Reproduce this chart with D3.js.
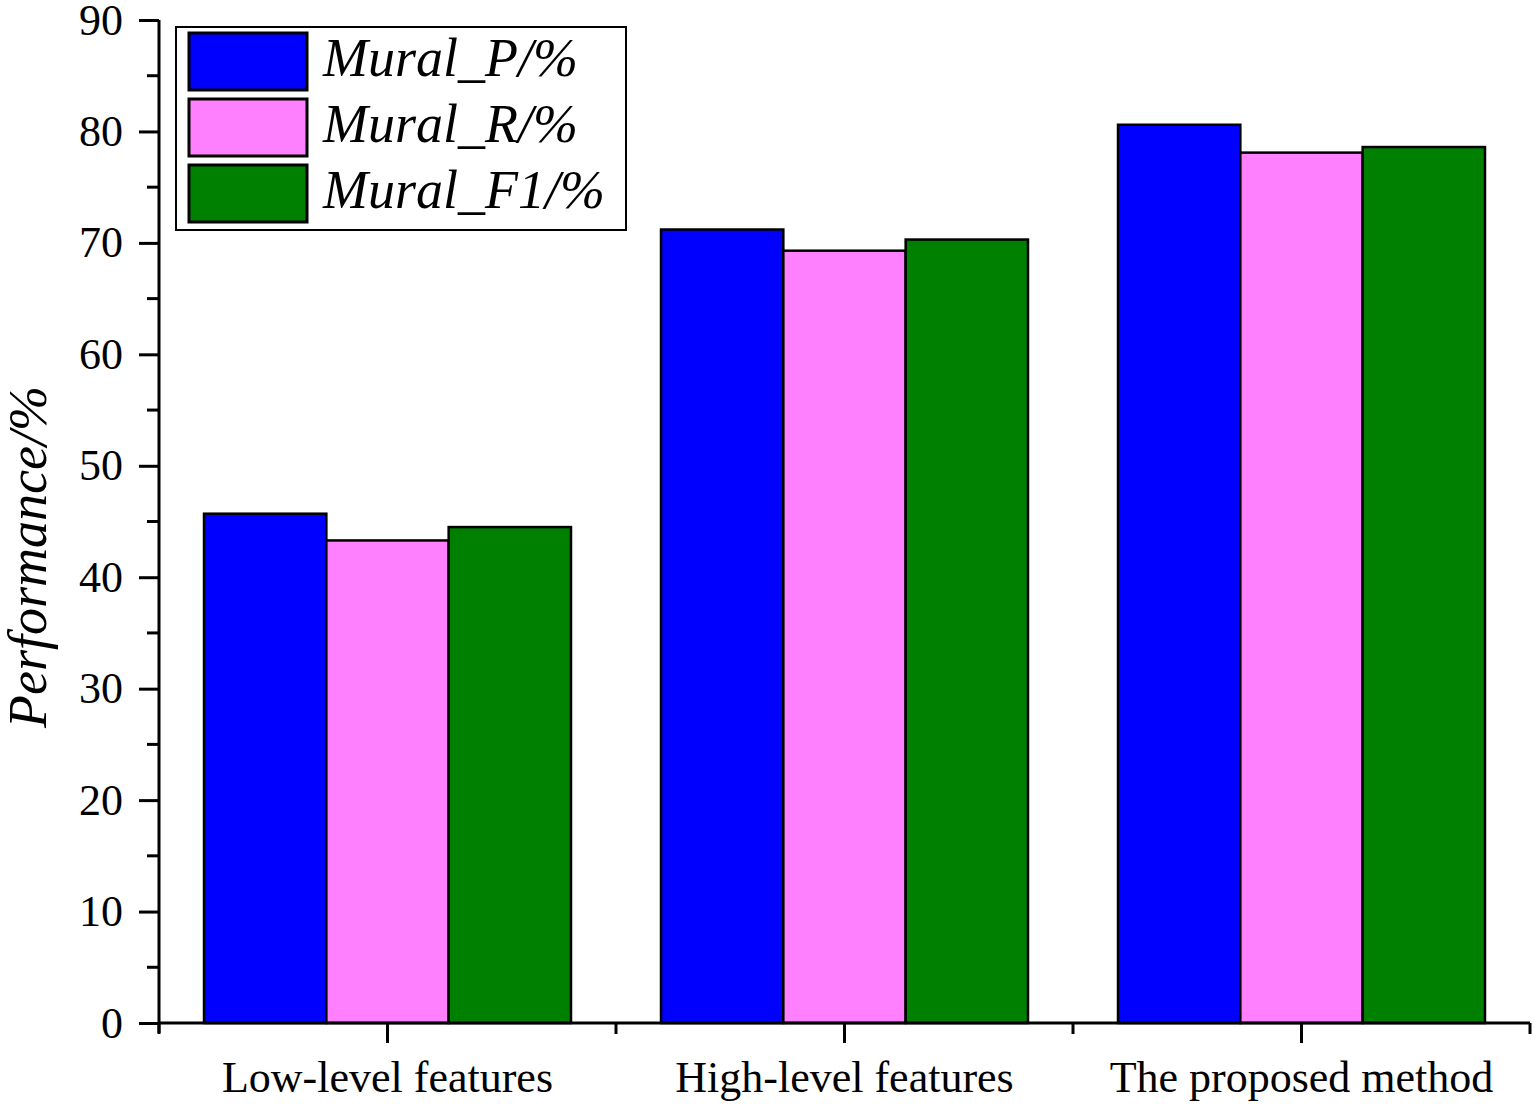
<!DOCTYPE html>
<html><head><meta charset="utf-8">
<script src="https://cdn.jsdelivr.net/npm/d3@7"></script>
<style>body{margin:0;background:#fff}svg{display:block}</style>
</head><body><svg id="c" width="1534" height="1104"></svg>
<script>
const categories = ["Low-level features", "High-level features", "The proposed method"];
const seriesNames = ["Mural_P/%", "Mural_R/%", "Mural_F1/%"];
const seriesColors = ["#0000ff", "#ff80ff", "#008000"];
const valuesP = [45.7, 71.2, 80.6];
const valuesR = [43.3, 69.3, 78.1];
const valuesF1 = [44.5, 70.3, 78.6];
const yTicks = [0, 10, 20, 30, 40, 50, 60, 70, 80, 90];
const yLabel = "Performance/%";

const series = [valuesP, valuesR, valuesF1];
const svg = d3.select("#c");
const font = "'Liberation Serif','Times New Roman',serif";
const m = {l:159, r:1530, t:20, b:1023};

const x0 = d3.scaleBand().domain(categories).range([m.l, m.r]).paddingInner(0).paddingOuter(0);
const x1 = d3.scaleBand().domain(seriesNames).range([0, x0.bandwidth()]).paddingInner(0).paddingOuter(0.368);
const y = d3.scaleLinear().domain([0, 90]).range([m.b, m.t]);

// bars
categories.forEach((c, ci) => {
  seriesNames.forEach((s, si) => {
    svg.append("rect")
      .attr("x", x0(c) + x1(s))
      .attr("y", y(series[si][ci]))
      .attr("width", x1.bandwidth())
      .attr("height", y(0) - y(series[si][ci]))
      .attr("fill", seriesColors[si])
      .attr("stroke", "#000").attr("stroke-width", 2.5);
  });
});

// y axis
const yAxis = d3.axisLeft(y).tickValues(yTicks).tickSize(20).tickPadding(16).tickFormat(d3.format("d"));
const gy = svg.append("g").attr("transform", `translate(${m.l},0)`).call(yAxis);
gy.select(".domain").attr("stroke-width", 3).attr("d", `M0,${m.b+10}V${m.t}`);
gy.selectAll(".tick line").attr("stroke-width", 3);
gy.selectAll("text").attr("font-family", font).attr("font-size", 44).attr("fill", "#000");
// minor y ticks
const minor = d3.range(5, 90, 10);
svg.append("g").selectAll("line").data(minor).join("line")
  .attr("x1", m.l - 12).attr("x2", m.l).attr("y1", d => y(d)).attr("y2", d => y(d))
  .attr("stroke", "#000").attr("stroke-width", 3);

// x axis
const xAxis = d3.axisBottom(x0).tickSize(20).tickPadding(18);
const gx = svg.append("g").attr("transform", `translate(0,${m.b})`).call(xAxis);
gx.select(".domain").attr("stroke-width", 3).attr("d", `M${m.l},0H${m.r}`);
gx.selectAll(".tick line").attr("stroke-width", 3);
gx.selectAll("text").attr("font-family", font).attr("font-size", 44).attr("fill", "#000");
// band boundary ticks
const bounds = categories.map(c => x0(c)).concat([m.r]);
svg.append("g").selectAll("line").data(bounds).join("line")
  .attr("x1", d => d).attr("x2", d => d).attr("y1", m.b).attr("y2", m.b + 11)
  .attr("stroke", "#000").attr("stroke-width", 3);

// y label
svg.append("text").attr("transform", `translate(46,557) rotate(-90)`)
  .attr("text-anchor", "middle").attr("font-family", font).attr("font-style", "italic")
  .attr("font-size", 54).text(yLabel);

// legend
const lg = svg.append("g");
lg.append("rect").attr("x", 176).attr("y", 27).attr("width", 450).attr("height", 203)
  .attr("fill", "#fff").attr("stroke", "#000").attr("stroke-width", 2);
seriesNames.forEach((s, i) => {
  const yy = 33 + i * 66;
  lg.append("rect").attr("x", 189).attr("y", yy).attr("width", 118).attr("height", 57)
    .attr("fill", seriesColors[i]).attr("stroke", "#000").attr("stroke-width", 3);
  lg.append("text").attr("x", 323).attr("y", yy + 43).attr("font-family", font)
    .attr("font-style", "italic").attr("font-size", 54).text(s);
});
</script></body></html>
